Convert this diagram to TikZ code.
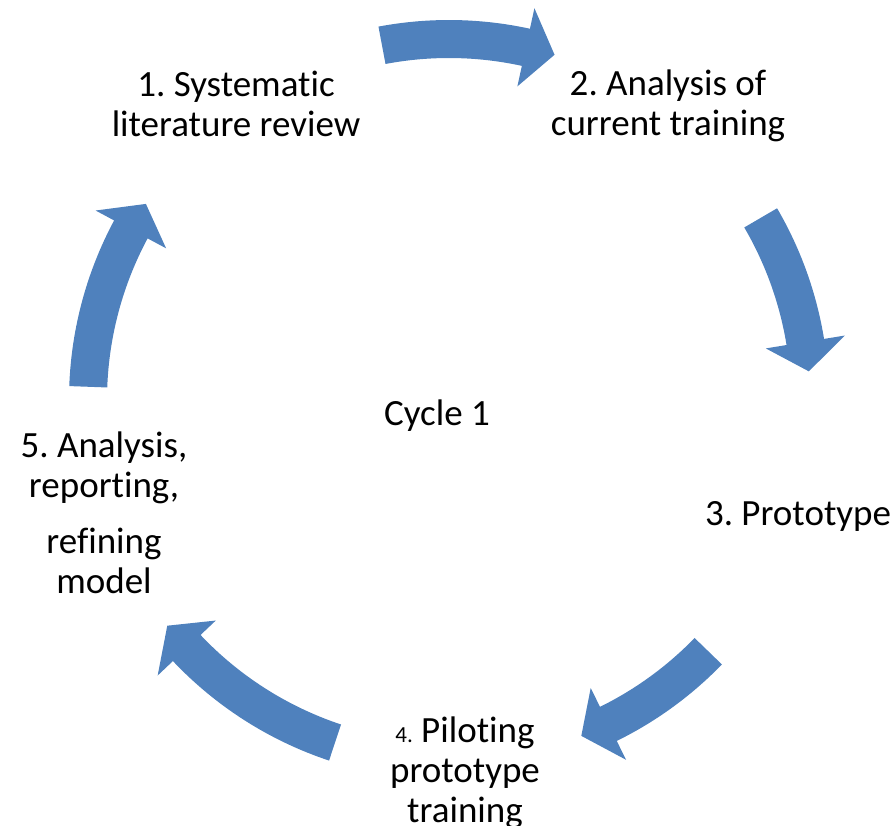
\documentclass[tikz,border=0pt]{standalone}
\usepackage{fontspec}
\setmainfont[Ligatures={NoCommon,NoContextual}]{Carlito}
\frenchspacing
\definecolor{arrowblue}{HTML}{4F81BD}
\newcommand{\cyclearrow}[2]{%
  \fill[arrowblue] (#1:380) arc[start angle=#1, end angle=#2, radius=380]
    -- (#2:401) -- ({#2-4.7}:361) -- (#2:321) -- (#2:342)
    arc[start angle=#2, end angle=#1, radius=342] -- cycle;}
\begin{document}
\begin{tikzpicture}[x=1pt,y=1pt,
  lbl/.style={align=center, anchor=base, inner sep=0pt, font=\fontsize{37}{40}\selectfont}]
\useasboundingbox (0,0) rectangle (894,-826);
\begin{scope}[shift={(449,-400)}]
  \cyclearrow{100.7}{77.7}
  \cyclearrow{30.3}{9.25}
  \cyclearrow{-44.1}{-63.8}
  \cyclearrow{-108.4}{-136.6}
  \cyclearrow{177.9}{151.8}
\end{scope}
\node[lbl] (s1) at (236,-137) {1. Systematic\\literature review};
\node[lbl] (s2) at (668,-136) {2. Analysis of\\current training};
\node[lbl] (s3) at (798,-525) {3. Prototype};
\node[lbl] (s4) at (465,-822) {{\fontsize{23}{23}\selectfont 4.} Piloting\\prototype\\training};
\node[lbl] (s5) at (104,-593) {5. Analysis,\\reporting,\\[16pt]refining\\model};
\node[lbl] (c) at (437,-425) {Cycle 1};
\end{tikzpicture}
\end{document}
